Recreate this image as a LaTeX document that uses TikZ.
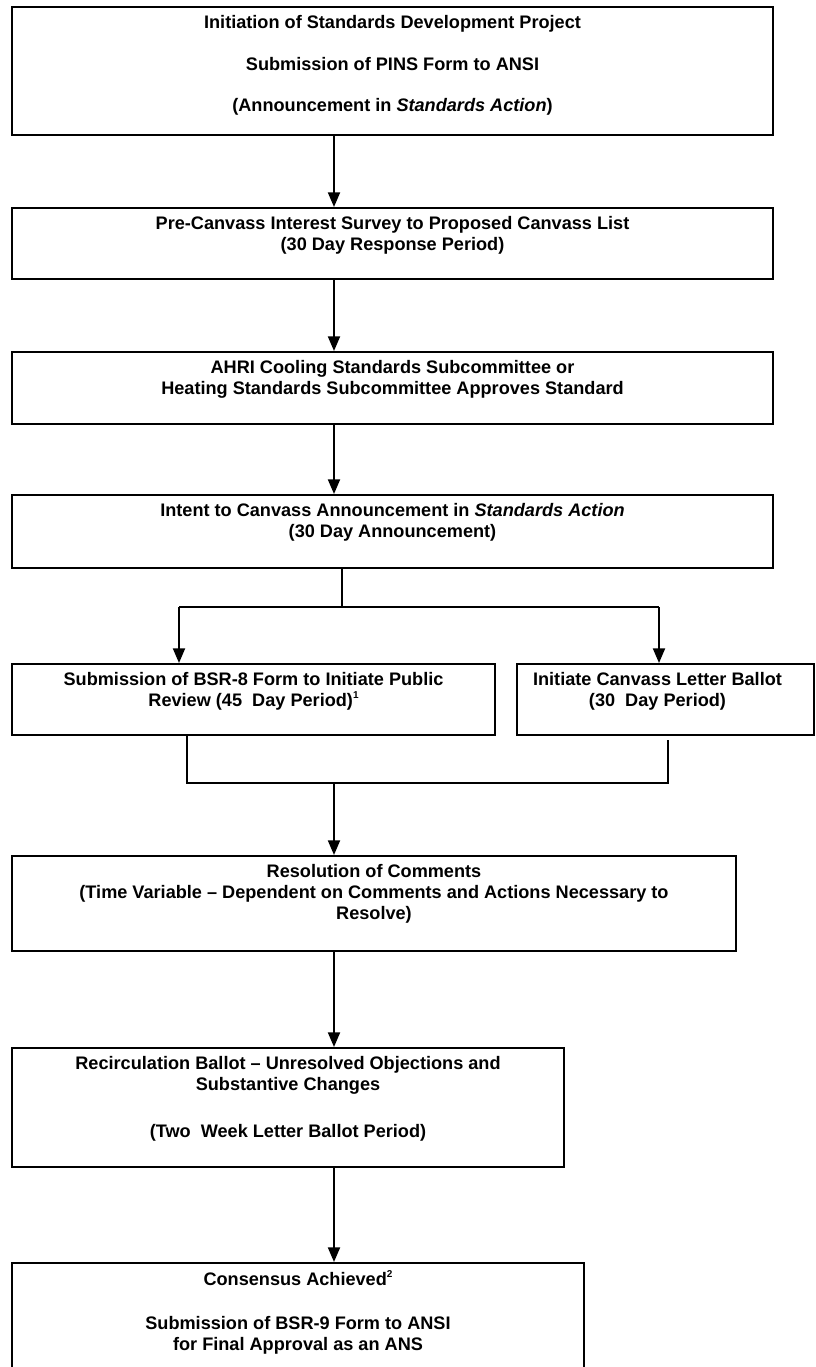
\documentclass[tikz,border=0pt]{standalone}
\usepackage{fontspec}
\setmainfont{Liberation Sans}
\usetikzlibrary{arrows.meta}
\newcommand\boxat[5]{\node[box, anchor=north west, minimum width={(#4-#2)*0.75pt}, minimum height={(#5-#3)*0.75pt}] (#1) at (#2,#3) {};}
\newcommand\supnum[1]{\raisebox{0.45em}{\fontsize{7.5pt}{7.5pt}\selectfont #1}}
\begin{document}
\begin{tikzpicture}[x=0.75pt,y=-0.75pt,
  box/.style={draw, line width=1.5pt, inner sep=0pt},
  lbl/.style={anchor=north, align=center, inner sep=0pt, font=\fontsize{13.6pt}{15.5pt}\selectfont\bfseries},
  conn/.style={line width=1.5pt},
  arr/.style={conn, -{Triangle[length=11pt,width=9pt]}}]
\clip (0,0) rectangle (815,1367);
\fill[white] (0,0) rectangle (815,1367);
\boxat{b1}{11}{6}{772}{134}
\boxat{b2}{11}{207}{772}{278}
\boxat{b3}{11}{351}{772}{423}
\boxat{b4}{11}{494}{772}{567}
\boxat{b5l}{11}{663}{494}{734}
\boxat{b5r}{516}{663}{813}{734}
\boxat{b6}{11}{855}{735}{950}
\boxat{b7}{11}{1047}{563}{1166}
\boxat{b8}{11}{1262}{583}{1400}
\node[lbl] (t1) at ([yshift=-6.3pt]b1.north) {\rule{0pt}{10.5pt}Initiation of Standards Development Project\\[15.5pt]Submission of PINS Form to ANSI\\[15.5pt](Announcement in \textit{Standards Action})};
\node[lbl] (t2) at ([yshift=-6.3pt]b2.north) {\rule{0pt}{10.5pt}Pre-Canvass Interest Survey to Proposed Canvass List\\(30 Day Response Period)};
\node[lbl] (t3) at ([yshift=-6.3pt]b3.north) {\rule{0pt}{10.5pt}AHRI Cooling Standards Subcommittee or\\Heating Standards Subcommittee Approves Standard};
\node[lbl] (t4) at ([yshift=-6.3pt]b4.north) {\rule{0pt}{10.5pt}Intent to Canvass Announcement in \textit{Standards Action}\\(30 Day Announcement)};
\node[lbl] (t5l) at ([yshift=-6.3pt]b5l.north) {\rule{0pt}{10.5pt}Submission of BSR-8 Form to Initiate Public\\Review (45~ Day Period)\supnum{1}};
\node[lbl] (t5r) at ([xshift=-6pt,yshift=-6.3pt]b5r.north) {\rule{0pt}{10.5pt}Initiate Canvass Letter Ballot\\(30~ Day Period)};
\node[lbl] (t6) at ([yshift=-6.3pt]b6.north) {\rule{0pt}{10.5pt}Resolution of Comments\\(Time Variable – Dependent on Comments and Actions Necessary to\\Resolve)};
\node[lbl] (t7) at ([yshift=-6.3pt]b7.north) {\rule{0pt}{10.5pt}Recirculation Ballot – Unresolved Objections and\\Substantive Changes\\[19.8pt](Two~ Week Letter Ballot Period)};
\node[lbl] (t8) at ([yshift=-6.3pt]b8.north) {\rule{0pt}{10.5pt}Consensus Achieved\supnum{2}\\[17.5pt]Submission of BSR-9 Form to ANSI\\for Final Approval as an ANS};
\coordinate (cx) at (334,0);
\draw[arr] (b1.south -| cx) -- (b2.north -| cx);
\draw[arr] (b2.south -| cx) -- (b3.north -| cx);
\draw[arr] (b3.south -| cx) -- (b4.north -| cx);
\coordinate (sp) at (342,607);
\coordinate (spl) at (179,607);
\coordinate (spr) at (659,607);
\draw[conn] (b4.south -| sp) -- (sp);
\draw[conn] (spl) -- (spr);
\draw[arr] (spl) -- (spl |- b5l.north);
\draw[arr] (spr) -- (spr |- b5r.north);
\coordinate (ml) at (187,783);
\coordinate (mr) at (668,783);
\coordinate (mrt) at (668,740);
\coordinate (mc) at (334,783);
\draw[conn] (b5l.south -| ml) -- (ml) -- (mr) -- (mrt);
\draw[arr] (mc) -- (mc |- b6.north);
\draw[arr] (b6.south -| cx) -- (b7.north -| cx);
\draw[arr] (b7.south -| cx) -- (b8.north -| cx);
\end{tikzpicture}
\end{document}
